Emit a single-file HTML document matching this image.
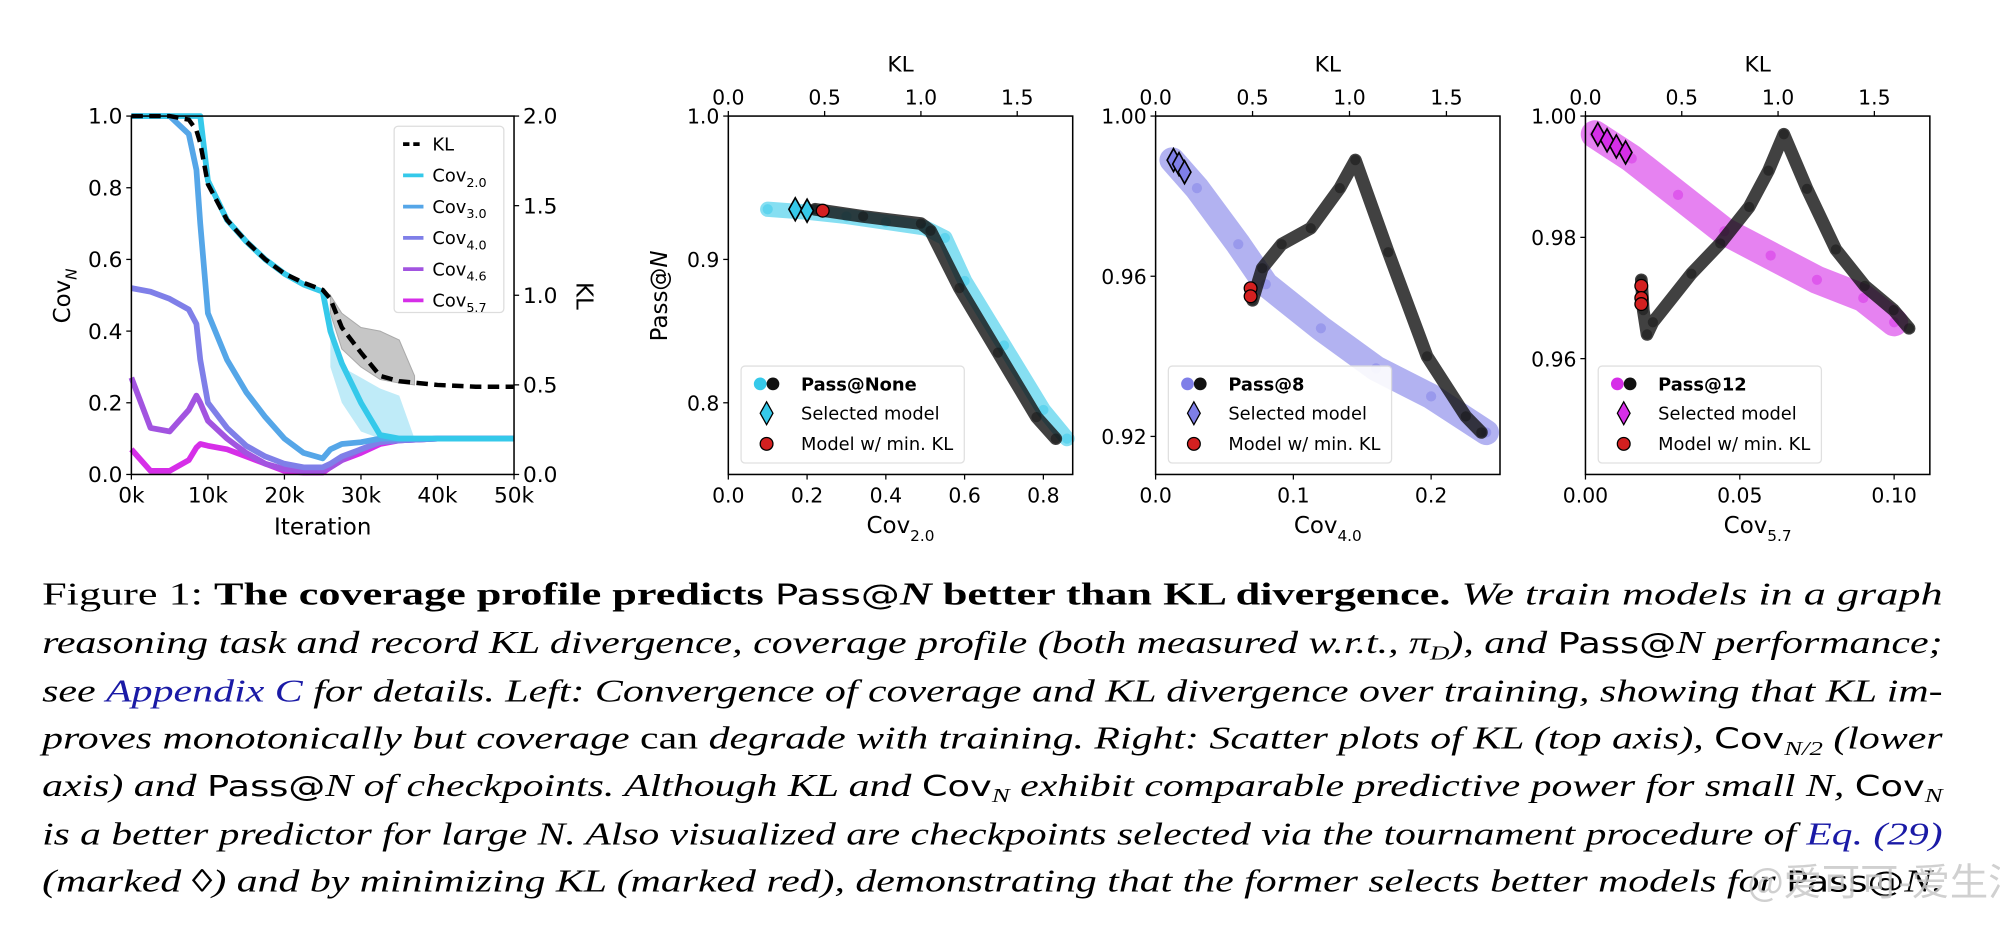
<!DOCTYPE html>
<html><head><meta charset="utf-8"><style>
html,body{margin:0;padding:0;background:#fff;}
svg{display:block;}
.t{font-family:"DejaVu Sans","Liberation Sans",sans-serif;fill:#000;}
.c{font-family:"Liberation Serif","Noto Serif CJK SC",serif;fill:#000;font-size:25px;}
.i{font-style:italic;}
.b{font-weight:bold;}
.s{font-family:"DejaVu Sans",sans-serif;}
</style></head><body>
<svg id="fig" width="2000" height="940" viewBox="0 0 1568 737" preserveAspectRatio="none" xmlns="http://www.w3.org/2000/svg">
<g id="left"></g>
<g id="sc"></g>
<g id="cap">
<text class="c" x="33" y="474" textLength="1490" lengthAdjust="spacingAndGlyphs">Figure 1:  <tspan class="b">The coverage profile predicts </tspan><tspan class="s" font-size="22">Pass@</tspan><tspan class="i b">N</tspan><tspan class="b"> better than KL divergence.</tspan><tspan class="i">  We train models in a graph</tspan></text>
<text class="c i" x="33" y="512" textLength="1490" lengthAdjust="spacingAndGlyphs">reasoning task and record KL divergence, coverage profile (both measured w.r.t., π<tspan font-size="16" dy="5">D</tspan><tspan dy="-5">), and </tspan><tspan class="s" font-style="normal" font-size="22">Pass@</tspan>N performance;</text>
<text class="c i" x="33" y="550" textLength="1490" lengthAdjust="spacingAndGlyphs">see <tspan fill="#1a1aa6">Appendix C</tspan> for details. Left: Convergence of coverage and KL divergence over training, showing that KL im-</text>
<text class="c i" x="33" y="587" textLength="1490" lengthAdjust="spacingAndGlyphs">proves monotonically but coverage <tspan font-style="normal">can</tspan> degrade with training. Right: Scatter plots of KL (top axis), <tspan class="s" font-style="normal" font-size="22">Cov</tspan><tspan font-size="16" dy="5">N/2</tspan><tspan dy="-5"> (lower</tspan></text>
<text class="c i" x="33" y="624" textLength="1490" lengthAdjust="spacingAndGlyphs">axis) and <tspan class="s" font-style="normal" font-size="22">Pass@</tspan>N of checkpoints. Although KL and <tspan class="s" font-style="normal" font-size="22">Cov</tspan><tspan font-size="16" dy="5">N</tspan><tspan dy="-5"> exhibit comparable predictive power for small N, </tspan><tspan class="s" font-style="normal" font-size="22">Cov</tspan><tspan font-size="16" dy="5">N</tspan></text>
<text class="c i" x="33" y="662" textLength="1490" lengthAdjust="spacingAndGlyphs">is a better predictor for large N. Also visualized are checkpoints selected via the tournament procedure of <tspan fill="#1a1aa6">Eq. (29)</tspan></text>
<text class="c i" x="33" y="699" textLength="1490" lengthAdjust="spacingAndGlyphs">(marked ◊) and by minimizing KL (marked red), demonstrating that the former selects better models for <tspan class="s" font-style="normal" font-size="22">Pass@</tspan>N.</text>
<text x="1370" y="702" font-family="'Noto Sans CJK SC',sans-serif" font-size="30" fill="#c8c8c8" opacity="0.85">@爱可可-爱生活</text>
</g>
</svg>
<script>
const NS="http://www.w3.org/2000/svg";
function E(p,tag,a,txt){const e=document.createElementNS(NS,tag);for(const k in a)e.setAttribute(k,a[k]);if(txt!==undefined)e.textContent=txt;p.appendChild(e);return e;}

// ---- Left chart data ----
const iters=[0,2500,5000,7500,8500,9000,10000,12500,15000,17500,20000,22500,25000,26000,27500,30000,32500,35000,40000,45000,50000];
const klVals=[2.0,2.0,2.0,1.98,1.92,1.85,1.62,1.42,1.3,1.2,1.12,1.07,1.03,0.98,0.82,0.68,0.55,0.52,0.5,0.49,0.49];
const cov20=[1,1,1,1,1,1,0.82,0.71,0.65,0.6,0.56,0.53,0.51,0.4,0.31,0.2,0.11,0.1,0.1,0.1,0.1];
const cov30=[1,1,1,0.95,0.85,0.7,0.45,0.32,0.23,0.16,0.1,0.06,0.045,0.07,0.085,0.09,0.1,0.1,0.1,0.1,0.1];
const cov40=[0.52,0.51,0.49,0.46,0.42,0.32,0.2,0.13,0.08,0.05,0.03,0.02,0.02,0.03,0.05,0.07,0.09,0.095,0.1,0.1,0.1];
const cov46=[0.27,0.13,0.12,0.18,0.22,0.2,0.15,0.1,0.06,0.03,0.015,0.01,0.01,0.02,0.04,0.07,0.09,0.095,0.1,0.1,0.1];
const cov57=[0.07,0.01,0.01,0.04,0.075,0.085,0.08,0.07,0.05,0.03,0.01,0.005,0.005,0.02,0.04,0.06,0.085,0.095,0.1,0.1,0.1];
const bandIters=[26000,27500,30000,32500,35000,37000];
const klLow=[0.9,0.7,0.6,0.53,0.51,0.5];
const klHigh=[1.0,0.9,0.82,0.8,0.75,0.55];
const c20Low=[0.3,0.2,0.12,0.1,0.1,0.1];
const c20High=[0.45,0.3,0.27,0.24,0.22,0.1];
const leftTicksY=[0,0.2,0.4,0.6,0.8,1.0];
const leftTicksKL=[0,0.5,1.0,1.5,2.0];
const leftTicksX=[0,10000,20000,30000,40000,50000];

(function(){
const g=document.getElementById('left');
const X0=103,X1=403,Y0=372,Y1=91;
const sx=v=>X0+(X1-X0)*v/50000, sy=v=>Y0-(Y0-Y1)*v, sk=v=>Y0-(Y0-Y1)*v/2;
const poly=(xs,ys,fy)=>xs.map((x,i)=>sx(x).toFixed(1)+','+fy(ys[i]).toFixed(1)).join(' ');
const band=(xs,lo,hi,fy)=>poly(xs,lo,fy)+' '+poly(xs.slice().reverse(),hi.slice().reverse(),fy);
let b=E(g,'polygon',{points:band(bandIters,klLow,klHigh,sk),fill:'#999',opacity:0.55,stroke:'#666','stroke-width':0.8});

b=E(g,'polygon',{points:band(bandIters,c20Low,c20High,sy),fill:'#7fd8f2',opacity:0.5});

const series=[[cov57,'#d62ee8','cov57-line'],[cov46,'#a254e0','cov46-line'],[cov40,'#7f7fe8','cov40-line'],[cov30,'#55a6e8','cov30-line'],[cov20,'#35c9ea','cov20-line']];
series.forEach(s=>{const l=E(g,'polyline',{points:poly(iters,s[0],sy),fill:'none',stroke:s[1],'stroke-width':4.5,'stroke-linejoin':'round'});
});
const kl=E(g,'polyline',{points:poly(iters,klVals,sk),fill:'none',stroke:'#000','stroke-width':3.5,'stroke-dasharray':'9,5'});

const fr=E(g,'rect',{x:X0,y:Y1,width:X1-X0,height:Y0-Y1,fill:'none',stroke:'#000','stroke-width':1.2});

leftTicksY.forEach(v=>{E(g,'line',{x1:X0-4,x2:X0,y1:sy(v),y2:sy(v),stroke:'#000'});
const t=E(g,'text',{x:X0-7,y:sy(v)+6,'text-anchor':'end','font-size':17,class:'t'},v.toFixed(1));
});
leftTicksKL.forEach(v=>{E(g,'line',{x1:X1,x2:X1+4,y1:sk(v),y2:sk(v),stroke:'#000'});
const t=E(g,'text',{x:X1+7,y:sk(v)+6,'font-size':17,class:'t'},v.toFixed(1));
});
leftTicksX.forEach(v=>{E(g,'line',{x1:sx(v),x2:sx(v),y1:Y0,y2:Y0+4,stroke:'#000'});
const t=E(g,'text',{x:sx(v),y:Y0+22,'text-anchor':'middle','font-size':17,class:'t'},(v/1000)+'k');
});
let t=E(g,'text',{x:253,y:419,'text-anchor':'middle','font-size':18,class:'t'},'Iteration');

t=E(g,'text',{transform:'translate(55,232) rotate(-90)','text-anchor':'middle','font-size':18,class:'t'},'Cov');
E(t,'tspan',{'font-size':12,dy:5,'font-style':'italic'},'N');

t=E(g,'text',{transform:'translate(452,232) rotate(90)','text-anchor':'middle','font-size':18,class:'t'},'KL');

const lg=E(g,'g',{});
E(lg,'rect',{x:309,y:99,width:86,height:146,fill:'#fff',stroke:'#ddd',rx:3});
const li=[['KL','#000',true],['2.0','#35c9ea'],['3.0','#55a6e8'],['4.0','#7f7fe8'],['4.6','#a254e0'],['5.7','#d62ee8']];
li.forEach((it,i)=>{const y=113+i*24.5;
E(lg,'line',{x1:316,x2:332,y1:y,y2:y,stroke:it[1],'stroke-width':3,'stroke-dasharray':it[2]?'5,3':'none'});
const tt=E(lg,'text',{x:339,y:y+5,'font-size':14,class:'t'},it[2]?'KL':'Cov');
if(!it[2])E(tt,'tspan',{'font-size':10,dy:4},it[0]);
});
})();

// ---- Scatter data ----
const p1CovX=[0.1,0.2,0.3,0.4,0.5,0.55,0.6,0.7,0.8,0.86];
const p1CovY=[0.935,0.933,0.93,0.926,0.922,0.915,0.885,0.84,0.795,0.775];
const p1KlX=[0.45,0.7,1.0,1.05,1.2,1.4,1.6,1.7];
const p1KlY=[0.935,0.93,0.925,0.92,0.88,0.835,0.79,0.775];
const p1SelX=[0.17,0.2];const p1SelY=[0.935,0.934];
const p1RedX=[0.49];const p1RedY=[0.934];
const p2CovX=[0.012,0.03,0.06,0.08,0.12,0.16,0.2,0.24];
const p2CovY=[0.989,0.982,0.968,0.958,0.947,0.937,0.93,0.921];
const p2KlX=[0.5,0.55,0.65,0.8,0.95,1.03,1.2,1.4,1.6,1.68];
const p2KlY=[0.954,0.962,0.968,0.972,0.982,0.989,0.966,0.94,0.925,0.921];
const p2SelX=[0.013,0.017,0.021];const p2SelY=[0.989,0.988,0.986];
const p2RedX=[0.49,0.49];const p2RedY=[0.957,0.955];
const p3CovX=[0.003,0.015,0.03,0.045,0.06,0.075,0.09,0.1];
const p3CovY=[0.997,0.993,0.987,0.981,0.977,0.973,0.97,0.966];
const p3KlX=[0.29,0.3,0.32,0.35,0.55,0.7,0.85,0.95,1.03,1.15,1.3,1.45,1.6,1.68];
const p3KlY=[0.973,0.968,0.964,0.966,0.974,0.979,0.985,0.991,0.997,0.988,0.978,0.972,0.968,0.965];
const p3SelX=[0.004,0.007,0.01,0.013];const p3SelY=[0.997,0.996,0.995,0.994];
const p3RedX=[0.29,0.29,0.29];const p3RedY=[0.972,0.970,0.969];
const klTicks=[0,0.5,1.0,1.5];
const p1XTicks=[0,0.2,0.4,0.6,0.8];const p1YTicks=[0.8,0.9,1.0];
const p2XTicks=[0,0.1,0.2];const p2YTicks=[0.92,0.96,1.0];
const p3XTicks=[0,0.05,0.1];const p3YTicks=[0.96,0.98,1.0];

const panels=[
{x0:571,xMax:0.8,xAt:818,yMin:0.75,yMax:1.0,klPx:151,cx:p1CovX,cy:p1CovY,kx:p1KlX,ky:p1KlY,sx:p1SelX,sy:p1SelY,rx:p1RedX,ry:p1RedY,xt:p1XTicks,yt:p1YTicks,xd:1,yd:1,col:'#35c9ea',lab:'Pass@None',sub:'2.0',title:true,cw:12},
{x0:906,xMax:0.2,xAt:1122,yMin:0.9105,yMax:1.0,klPx:152,cx:p2CovX,cy:p2CovY,kx:p2KlX,ky:p2KlY,sx:p2SelX,sy:p2SelY,rx:p2RedX,ry:p2RedY,xt:p2XTicks,yt:p2YTicks,xd:1,yd:2,col:'#7f7fe8',lab:'Pass@8',sub:'4.0',cw:20},
{x0:1243,xMax:0.1,xAt:1485,yMin:0.9409,yMax:1.0,klPx:151,cx:p3CovX,cy:p3CovY,kx:p3KlX,ky:p3KlY,sx:p3SelX,sy:p3SelY,rx:p3RedX,ry:p3RedY,xt:p3XTicks,yt:p3YTicks,xd:2,yd:2,col:'#d62ee8',lab:'Pass@12',sub:'5.7',cw:22}];

panels.forEach((P,pi)=>{
const g=E(document.getElementById('sc'),'g',{});

const X0=P.x0,X1=P.x0+270,Y0=372,Y1=91;
const fx=v=>X0+(P.xAt-X0)*v/P.xMax, fk=v=>X0+P.klPx*v, fy=v=>Y0-(Y0-Y1)*(v-P.yMin)/(P.yMax-P.yMin);
const draw=(xs,ys,f,col,name,w,op)=>{
const pl=E(g,'polyline',{points:xs.map((x,i)=>f(x).toFixed(1)+','+fy(ys[i]).toFixed(1)).join(' '),fill:'none',stroke:col,'stroke-width':w,'stroke-linejoin':'round','stroke-linecap':'round',opacity:op});

xs.forEach((x,i)=>{const c=E(g,'circle',{cx:f(x),cy:fy(ys[i]),r:4,fill:col,opacity:0.5});
});};
draw(P.cx,P.cy,fx,P.col,'coverage',P.cw,0.6);
draw(P.kx,P.ky,fk,'#111','kl',10,0.8);
P.sx.forEach((x,i)=>{const X=fx(x),Y=fy(P.sy[i]);
const d=E(g,'polygon',{points:`${X},${Y-9} ${X+5},${Y} ${X},${Y+9} ${X-5},${Y}`,fill:P.col,stroke:'#000','stroke-width':1.3});
});
P.rx.forEach((x,i)=>{const c=E(g,'circle',{cx:fk(x),cy:fy(P.ry[i]),r:5,fill:'#d42020',stroke:'#000','stroke-width':1});
});
const fr=E(g,'rect',{x:X0,y:Y1,width:X1-X0,height:Y0-Y1,fill:'none',stroke:'#000','stroke-width':1.2});

P.xt.forEach(v=>{E(g,'line',{x1:fx(v),x2:fx(v),y1:Y0,y2:Y0+4,stroke:'#000'});
const t=E(g,'text',{x:fx(v),y:Y0+22,'text-anchor':'middle','font-size':16,class:'t'},v.toFixed(P.xd));
});
klTicks.forEach(v=>{E(g,'line',{x1:fk(v),x2:fk(v),y1:Y1-4,y2:Y1,stroke:'#000'});
const t=E(g,'text',{x:fk(v),y:Y1-9,'text-anchor':'middle','font-size':16,class:'t'},v.toFixed(1));
});
P.yt.forEach(v=>{E(g,'line',{x1:X0-4,x2:X0,y1:fy(v),y2:fy(v),stroke:'#000'});
const t=E(g,'text',{x:X0-7,y:fy(v)+6,'text-anchor':'end','font-size':16,class:'t'},v.toFixed(P.yd));
});
let t=E(g,'text',{x:X0+135,y:56,'text-anchor':'middle','font-size':17,class:'t'},'KL');

t=E(g,'text',{x:X0+135,y:418,'text-anchor':'middle','font-size':18,class:'t'},'Cov');
E(t,'tspan',{'font-size':12,dy:6},P.sub);

if(P.title){t=E(g,'text',{transform:'translate(523,232) rotate(-90)','text-anchor':'middle','font-size':18,class:'t'},'Pass@');
E(t,'tspan',{'font-style':'italic'},'N');
}
const lg=E(g,'g',{});
const lx=X0+10;
E(lg,'rect',{x:lx,y:287,width:175,height:76,fill:'#fff',stroke:'#ddd',rx:3,opacity:0.9});
E(lg,'circle',{cx:lx+15,cy:301,r:5,fill:P.col});E(lg,'circle',{cx:lx+25,cy:301,r:5,fill:'#111'});
t=E(lg,'text',{x:lx+47,y:306,'font-size':14,'font-weight':'bold',class:'t'},P.lab);

E(lg,'polygon',{points:`${lx+20},${315} ${lx+25},${324} ${lx+20},${333} ${lx+15},${324}`,fill:P.col,stroke:'#000'});
t=E(lg,'text',{x:lx+47,y:329,'font-size':14,class:'t'},'Selected model');

E(lg,'circle',{cx:lx+20,cy:348,r:5,fill:'#d42020',stroke:'#000'});
t=E(lg,'text',{x:lx+47,y:353,'font-size':14,class:'t'},'Model w/ min. KL');

});
</script>
</body></html>
